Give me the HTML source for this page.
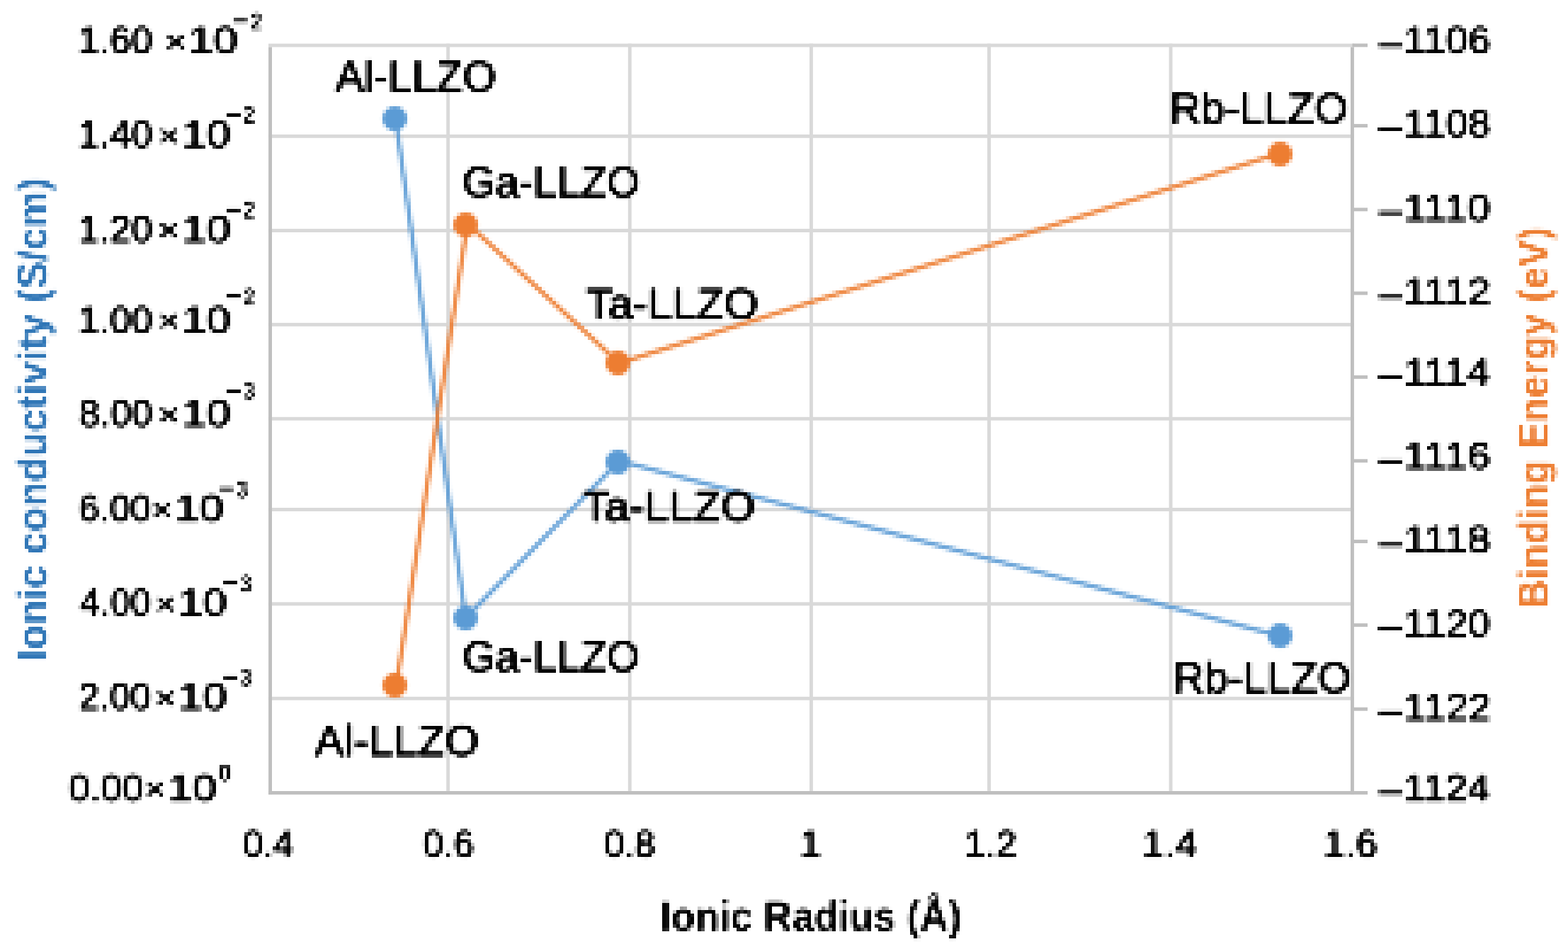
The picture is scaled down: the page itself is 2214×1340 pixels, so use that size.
<!DOCTYPE html>
<html lang="en"><head><meta charset="utf-8"><title>Ionic conductivity and binding energy vs ionic radius</title>
<style>
html,body{margin:0;padding:0;background:#fff;}
body{width:2214px;height:1340px;}
svg{display:block;font-family:"Liberation Sans",Arial,sans-serif;}
</style></head><body>
<svg width="2214" height="1340" viewBox="0 0 2214 1340" role="img" aria-label="Ionic conductivity and binding energy versus ionic radius for doped LLZO">
<defs>
<filter id="lowres" filterUnits="userSpaceOnUse" x="0" y="0" width="2214" height="1340" color-interpolation-filters="sRGB">
<feGaussianBlur in="SourceGraphic" stdDeviation="1.44" result="avg"/>
<feFlood x="2" y="2" width="1" height="1" flood-color="#000"/>
<feComposite width="5" height="5" operator="over"/>
<feTile result="grid"/>
<feComposite in="avg" in2="grid" operator="in"/>
<feMorphology operator="dilate" radius="2"/>
<feGaussianBlur stdDeviation="0.55"/>
</filter>
<filter id="lowrest" filterUnits="userSpaceOnUse" x="0" y="0" width="2214" height="1340" color-interpolation-filters="sRGB">
<feGaussianBlur in="SourceGraphic" stdDeviation="1.44" result="avg"/>
<feFlood x="2" y="2" width="1" height="1" flood-color="#000"/>
<feComposite width="5" height="5" operator="over"/>
<feTile result="grid"/>
<feComposite in="avg" in2="grid" operator="in"/>
<feMorphology operator="dilate" radius="2"/>
<feComponentTransfer><feFuncA type="table" tableValues="0 0.03 0.2 0.5 0.8 0.97 1"/></feComponentTransfer>
<feGaussianBlur stdDeviation="0.55"/>
</filter>
</defs>
<rect width="2214" height="1340" fill="#fff"/>
<g id="grid">
<rect x="379.1" y="61.6" width="1532.9" height="4.9" fill="#d9d9d9"/>
<rect x="379.1" y="189.9" width="1532.9" height="4.9" fill="#d9d9d9"/>
<rect x="379.1" y="323.1" width="1532.9" height="4.9" fill="#d9d9d9"/>
<rect x="379.1" y="455.9" width="1532.9" height="4.9" fill="#d9d9d9"/>
<rect x="379.1" y="588.8" width="1532.9" height="4.9" fill="#d9d9d9"/>
<rect x="379.1" y="717.0" width="1532.9" height="4.9" fill="#d9d9d9"/>
<rect x="379.1" y="850.3" width="1532.9" height="4.9" fill="#d9d9d9"/>
<rect x="379.1" y="983.8" width="1532.9" height="4.9" fill="#d9d9d9"/>
<rect x="630.2" y="61.6" width="4.9" height="1055.3" fill="#d9d9d9"/>
<rect x="886.8" y="61.6" width="4.9" height="1055.3" fill="#d9d9d9"/>
<rect x="1143.0" y="61.6" width="4.9" height="1055.3" fill="#d9d9d9"/>
<rect x="1394.1" y="61.6" width="4.9" height="1055.3" fill="#d9d9d9"/>
<rect x="1650.6" y="61.6" width="4.9" height="1055.3" fill="#d9d9d9"/>
<rect x="379.1" y="66.5" width="4.9" height="1055.3" fill="#bfbfbf"/>
<rect x="1907.0" y="66.5" width="4.9" height="1055.3" fill="#bfbfbf"/>
<rect x="379.1" y="1117.0" width="1552.0" height="4.9" fill="#bfbfbf"/>
<rect x="1909.5" y="61.5" width="21.5" height="4.9" fill="#bfbfbf"/>
<rect x="1909.5" y="175.1" width="21.5" height="4.9" fill="#bfbfbf"/>
<rect x="1909.5" y="293.4" width="21.5" height="4.9" fill="#bfbfbf"/>
<rect x="1909.5" y="411.6" width="21.5" height="4.9" fill="#bfbfbf"/>
<rect x="1909.5" y="530.0" width="21.5" height="4.9" fill="#bfbfbf"/>
<rect x="1909.5" y="648.3" width="21.5" height="4.9" fill="#bfbfbf"/>
<rect x="1909.5" y="762.1" width="21.5" height="4.9" fill="#bfbfbf"/>
<rect x="1909.5" y="880.2" width="21.5" height="4.9" fill="#bfbfbf"/>
<rect x="1909.5" y="998.8" width="21.5" height="4.9" fill="#bfbfbf"/>
</g>
<g id="series" filter="url(#lowres)">
<polyline points="558.6,167.6 657.5,872.5 874.5,650.8 1805.7,897.6" fill="none" stroke="#5b9bd5" stroke-width="6.2" stroke-opacity="0.92" stroke-linejoin="round"/>
<circle cx="557.5" cy="167.5" r="17.3" fill="#5b9bd5"/>
<circle cx="657.5" cy="872.5" r="17.3" fill="#5b9bd5"/>
<circle cx="872.5" cy="652.5" r="17.3" fill="#5b9bd5"/>
<circle cx="1807.5" cy="897.5" r="17.3" fill="#5b9bd5"/>
<polyline points="559.8,966.4 660.0,315.8 874.5,512.7 1805.7,216.8" fill="none" stroke="#ed7d31" stroke-width="6.2" stroke-opacity="0.92" stroke-linejoin="round"/>
<circle cx="557.5" cy="967.5" r="17.3" fill="#ed7d31"/>
<circle cx="657.5" cy="317.5" r="17.3" fill="#ed7d31"/>
<circle cx="872.5" cy="512.5" r="17.3" fill="#ed7d31"/>
<circle cx="1807.5" cy="217.5" r="17.3" fill="#ed7d31"/>
</g>
<g id="labels" filter="url(#lowrest)">
<text fill="#000"><tspan x="473.60" y="129.35" font-size="61.63" stroke="#000" stroke-width="1.9" textLength="226.99" lengthAdjust="spacingAndGlyphs">Al-LLZO</tspan></text>
<text fill="#000"><tspan x="652.84" y="277.55" font-size="61.63" stroke="#000" stroke-width="1.9" textLength="250.59" lengthAdjust="spacingAndGlyphs">Ga-LLZO</tspan></text>
<text fill="#000"><tspan x="827.34" y="450.25" font-size="61.63" stroke="#000" stroke-width="1.9" textLength="243.59" lengthAdjust="spacingAndGlyphs">Ta-LLZO</tspan></text>
<text fill="#000"><tspan x="1651.29" y="173.95" font-size="61.63" stroke="#000" stroke-width="1.9" textLength="252.16" lengthAdjust="spacingAndGlyphs">Rb-LLZO</tspan></text>
<text fill="#000"><tspan x="822.44" y="736.25" font-size="61.63" stroke="#000" stroke-width="1.9" textLength="244.00" lengthAdjust="spacingAndGlyphs">Ta-LLZO</tspan></text>
<text fill="#000"><tspan x="652.64" y="948.25" font-size="61.63" stroke="#000" stroke-width="1.9" textLength="250.69" lengthAdjust="spacingAndGlyphs">Ga-LLZO</tspan></text>
<text fill="#000"><tspan x="1656.20" y="977.95" font-size="61.63" stroke="#000" stroke-width="1.9" textLength="251.75" lengthAdjust="spacingAndGlyphs">Rb-LLZO</tspan></text>
<text fill="#000"><tspan x="444.19" y="1066.55" font-size="61.63" stroke="#000" stroke-width="1.9" textLength="232.46" lengthAdjust="spacingAndGlyphs">Al-LLZO</tspan></text>
<text fill="#000"><tspan x="109.68" y="75.15" font-size="54.36" stroke="#000" stroke-width="1.5" textLength="105.68" lengthAdjust="spacingAndGlyphs">1.60</tspan><tspan x="232.82" y="73.65" font-size="44.58" stroke="#000" stroke-width="1.5" textLength="31.10" lengthAdjust="spacingAndGlyphs">×</tspan><tspan x="266.04" y="75.15" font-size="54.36" stroke="#000" stroke-width="1.5" textLength="69.92" lengthAdjust="spacingAndGlyphs">10</tspan><tspan x="328.03" y="44.01" font-size="44.55" font-weight="bold" textLength="23.01" lengthAdjust="spacingAndGlyphs">−</tspan><tspan x="353.24" y="41.50" font-size="35.24" font-weight="bold" textLength="16.80" lengthAdjust="spacingAndGlyphs">2</tspan></text>
<text fill="#000"><tspan x="109.68" y="208.25" font-size="54.36" stroke="#000" stroke-width="1.5" textLength="105.68" lengthAdjust="spacingAndGlyphs">1.40</tspan><tspan x="222.82" y="206.75" font-size="44.58" stroke="#000" stroke-width="1.5" textLength="31.10" lengthAdjust="spacingAndGlyphs">×</tspan><tspan x="257.10" y="208.25" font-size="54.36" stroke="#000" stroke-width="1.5" textLength="68.91" lengthAdjust="spacingAndGlyphs">10</tspan><tspan x="318.13" y="176.81" font-size="44.55" font-weight="bold" textLength="23.01" lengthAdjust="spacingAndGlyphs">−</tspan><tspan x="343.34" y="174.30" font-size="35.24" font-weight="bold" textLength="16.80" lengthAdjust="spacingAndGlyphs">2</tspan></text>
<text fill="#000"><tspan x="109.68" y="341.55" font-size="54.36" stroke="#000" stroke-width="1.5" textLength="105.68" lengthAdjust="spacingAndGlyphs">1.20</tspan><tspan x="222.82" y="340.05" font-size="44.58" stroke="#000" stroke-width="1.5" textLength="31.10" lengthAdjust="spacingAndGlyphs">×</tspan><tspan x="257.10" y="341.55" font-size="54.36" stroke="#000" stroke-width="1.5" textLength="68.91" lengthAdjust="spacingAndGlyphs">10</tspan><tspan x="318.13" y="310.51" font-size="44.55" font-weight="bold" textLength="23.01" lengthAdjust="spacingAndGlyphs">−</tspan><tspan x="343.34" y="308.00" font-size="35.24" font-weight="bold" textLength="16.80" lengthAdjust="spacingAndGlyphs">2</tspan></text>
<text fill="#000"><tspan x="109.68" y="469.75" font-size="54.36" stroke="#000" stroke-width="1.5" textLength="105.68" lengthAdjust="spacingAndGlyphs">1.00</tspan><tspan x="222.82" y="468.25" font-size="44.58" stroke="#000" stroke-width="1.5" textLength="31.10" lengthAdjust="spacingAndGlyphs">×</tspan><tspan x="257.10" y="469.75" font-size="54.36" stroke="#000" stroke-width="1.5" textLength="68.91" lengthAdjust="spacingAndGlyphs">10</tspan><tspan x="318.13" y="433.31" font-size="44.55" font-weight="bold" textLength="23.01" lengthAdjust="spacingAndGlyphs">−</tspan><tspan x="343.34" y="430.80" font-size="35.24" font-weight="bold" textLength="16.80" lengthAdjust="spacingAndGlyphs">2</tspan></text>
<text fill="#000"><tspan x="111.48" y="602.45" font-size="54.36" stroke="#000" stroke-width="1.5" textLength="103.84" lengthAdjust="spacingAndGlyphs">8.00</tspan><tspan x="222.82" y="600.95" font-size="44.58" stroke="#000" stroke-width="1.5" textLength="31.10" lengthAdjust="spacingAndGlyphs">×</tspan><tspan x="257.10" y="602.45" font-size="54.36" stroke="#000" stroke-width="1.5" textLength="68.91" lengthAdjust="spacingAndGlyphs">10</tspan><tspan x="318.13" y="566.91" font-size="44.55" font-weight="bold" textLength="23.01" lengthAdjust="spacingAndGlyphs">−</tspan><tspan x="343.74" y="564.40" font-size="35.24" font-weight="bold" textLength="16.21" lengthAdjust="spacingAndGlyphs">3</tspan></text>
<text fill="#000"><tspan x="111.13" y="736.25" font-size="54.36" stroke="#000" stroke-width="1.5" textLength="102.16" lengthAdjust="spacingAndGlyphs">6.00</tspan><tspan x="213.95" y="734.75" font-size="44.58" stroke="#000" stroke-width="1.5" textLength="30.05" lengthAdjust="spacingAndGlyphs">×</tspan><tspan x="247.10" y="736.25" font-size="54.36" stroke="#000" stroke-width="1.5" textLength="69.02" lengthAdjust="spacingAndGlyphs">10</tspan><tspan x="308.13" y="705.11" font-size="44.55" font-weight="bold" textLength="23.01" lengthAdjust="spacingAndGlyphs">−</tspan><tspan x="333.74" y="702.60" font-size="35.24" font-weight="bold" textLength="16.21" lengthAdjust="spacingAndGlyphs">3</tspan></text>
<text fill="#000"><tspan x="112.59" y="869.25" font-size="54.36" stroke="#000" stroke-width="1.5" textLength="100.67" lengthAdjust="spacingAndGlyphs">4.00</tspan><tspan x="218.45" y="867.75" font-size="44.58" stroke="#000" stroke-width="1.5" textLength="30.05" lengthAdjust="spacingAndGlyphs">×</tspan><tspan x="251.70" y="869.25" font-size="54.36" stroke="#000" stroke-width="1.5" textLength="68.91" lengthAdjust="spacingAndGlyphs">10</tspan><tspan x="313.63" y="838.21" font-size="44.55" font-weight="bold" textLength="23.01" lengthAdjust="spacingAndGlyphs">−</tspan><tspan x="339.24" y="835.70" font-size="35.24" font-weight="bold" textLength="16.21" lengthAdjust="spacingAndGlyphs">3</tspan></text>
<text fill="#000"><tspan x="111.13" y="1002.45" font-size="54.36" stroke="#000" stroke-width="1.5" textLength="102.16" lengthAdjust="spacingAndGlyphs">2.00</tspan><tspan x="218.45" y="1000.95" font-size="44.58" stroke="#000" stroke-width="1.5" textLength="30.05" lengthAdjust="spacingAndGlyphs">×</tspan><tspan x="251.70" y="1002.45" font-size="54.36" stroke="#000" stroke-width="1.5" textLength="68.91" lengthAdjust="spacingAndGlyphs">10</tspan><tspan x="313.63" y="971.11" font-size="44.55" font-weight="bold" textLength="23.01" lengthAdjust="spacingAndGlyphs">−</tspan><tspan x="339.24" y="968.60" font-size="35.24" font-weight="bold" textLength="16.21" lengthAdjust="spacingAndGlyphs">3</tspan></text>
<text fill="#000"><tspan x="97.08" y="1130.75" font-size="54.36" stroke="#000" stroke-width="1.5" textLength="105.68" lengthAdjust="spacingAndGlyphs">0.00</tspan><tspan x="204.05" y="1129.25" font-size="44.58" stroke="#000" stroke-width="1.5" textLength="30.05" lengthAdjust="spacingAndGlyphs">×</tspan><tspan x="237.31" y="1130.75" font-size="54.36" stroke="#000" stroke-width="1.5" textLength="68.80" lengthAdjust="spacingAndGlyphs">10</tspan><tspan x="308.50" y="1102.60" font-size="35.24" font-weight="bold" textLength="18.03" lengthAdjust="spacingAndGlyphs">0</tspan></text>
<text fill="#000"><tspan x="1942.65" y="88.77" font-size="74.48" textLength="41.42" lengthAdjust="spacingAndGlyphs">−</tspan><tspan x="1982.07" y="75.15" font-size="54.36" stroke="#000" stroke-width="1.5" textLength="122.62" lengthAdjust="spacingAndGlyphs">1106</tspan></text>
<text fill="#000"><tspan x="1942.65" y="207.07" font-size="74.48" textLength="41.42" lengthAdjust="spacingAndGlyphs">−</tspan><tspan x="1982.07" y="193.45" font-size="54.36" stroke="#000" stroke-width="1.5" textLength="122.62" lengthAdjust="spacingAndGlyphs">1108</tspan></text>
<text fill="#000"><tspan x="1942.65" y="325.37" font-size="74.48" textLength="41.42" lengthAdjust="spacingAndGlyphs">−</tspan><tspan x="1981.92" y="311.75" font-size="54.36" stroke="#000" stroke-width="1.5" textLength="122.61" lengthAdjust="spacingAndGlyphs">1110</tspan></text>
<text fill="#000"><tspan x="1942.65" y="443.67" font-size="74.48" textLength="41.42" lengthAdjust="spacingAndGlyphs">−</tspan><tspan x="1981.89" y="430.05" font-size="54.36" stroke="#000" stroke-width="1.5" textLength="123.40" lengthAdjust="spacingAndGlyphs">1112</tspan></text>
<text fill="#000"><tspan x="1942.65" y="557.37" font-size="74.48" textLength="41.42" lengthAdjust="spacingAndGlyphs">−</tspan><tspan x="1981.94" y="543.75" font-size="54.36" stroke="#000" stroke-width="1.5" textLength="121.99" lengthAdjust="spacingAndGlyphs">1114</tspan></text>
<text fill="#000"><tspan x="1942.65" y="675.77" font-size="74.48" textLength="41.42" lengthAdjust="spacingAndGlyphs">−</tspan><tspan x="1981.91" y="662.15" font-size="54.36" stroke="#000" stroke-width="1.5" textLength="122.93" lengthAdjust="spacingAndGlyphs">1116</tspan></text>
<text fill="#000"><tspan x="1942.65" y="793.97" font-size="74.48" textLength="41.42" lengthAdjust="spacingAndGlyphs">−</tspan><tspan x="1981.91" y="780.35" font-size="54.36" stroke="#000" stroke-width="1.5" textLength="122.93" lengthAdjust="spacingAndGlyphs">1118</tspan></text>
<text fill="#000"><tspan x="1942.65" y="912.27" font-size="74.48" textLength="41.42" lengthAdjust="spacingAndGlyphs">−</tspan><tspan x="1982.08" y="898.65" font-size="54.36" stroke="#000" stroke-width="1.5" textLength="122.32" lengthAdjust="spacingAndGlyphs">1120</tspan></text>
<text fill="#000"><tspan x="1942.65" y="1030.77" font-size="74.48" textLength="41.42" lengthAdjust="spacingAndGlyphs">−</tspan><tspan x="1982.06" y="1017.15" font-size="54.36" stroke="#000" stroke-width="1.5" textLength="123.08" lengthAdjust="spacingAndGlyphs">1122</tspan></text>
<text fill="#000"><tspan x="1942.65" y="1144.27" font-size="74.48" textLength="41.42" lengthAdjust="spacingAndGlyphs">−</tspan><tspan x="1982.10" y="1130.65" font-size="54.36" stroke="#000" stroke-width="1.5" textLength="121.73" lengthAdjust="spacingAndGlyphs">1124</tspan></text>
<text fill="#000"><tspan x="342.99" y="1209.65" font-size="54.36" stroke="#000" stroke-width="1.5" textLength="71.48" lengthAdjust="spacingAndGlyphs">0.4</tspan></text>
<text fill="#000"><tspan x="597.17" y="1209.65" font-size="54.36" stroke="#000" stroke-width="1.5" textLength="72.30" lengthAdjust="spacingAndGlyphs">0.6</tspan></text>
<text fill="#000"><tspan x="852.65" y="1209.65" font-size="54.36" stroke="#000" stroke-width="1.5" textLength="72.83" lengthAdjust="spacingAndGlyphs">0.8</tspan></text>
<text fill="#000"><tspan x="1129.12" y="1209.65" font-size="54.36" stroke="#000" stroke-width="1.5" textLength="30.60" lengthAdjust="spacingAndGlyphs">1</tspan></text>
<text fill="#000"><tspan x="1361.44" y="1209.65" font-size="54.36" stroke="#000" stroke-width="1.5" textLength="74.40" lengthAdjust="spacingAndGlyphs">1.2</tspan></text>
<text fill="#000"><tspan x="1613.07" y="1209.65" font-size="54.36" stroke="#000" stroke-width="1.5" textLength="77.42" lengthAdjust="spacingAndGlyphs">1.4</tspan></text>
<text fill="#000"><tspan x="1868.84" y="1209.65" font-size="54.36" stroke="#000" stroke-width="1.5" textLength="76.25" lengthAdjust="spacingAndGlyphs">1.6</tspan></text>
<text fill="#000"><tspan x="932.02" y="1314.20" font-size="59.00" font-weight="bold" textLength="425.85" lengthAdjust="spacingAndGlyphs">Ionic Radius (Å)</tspan></text>
<text fill="#2e75b6" transform="translate(66.00 929.60) rotate(-90)"><tspan x="-3.89" y="0.00" font-size="59.00" font-weight="bold" textLength="682.68" lengthAdjust="spacingAndGlyphs">Ionic conductivity (S/cm)</tspan></text>
<text fill="#ed7d31" transform="translate(2185.50 855.50) rotate(-90)"><tspan x="-3.81" y="0.00" font-size="59.00" font-weight="bold" textLength="538.89" lengthAdjust="spacingAndGlyphs">Binding Energy (eV)</tspan></text>
</g>
</svg>
</body></html>
